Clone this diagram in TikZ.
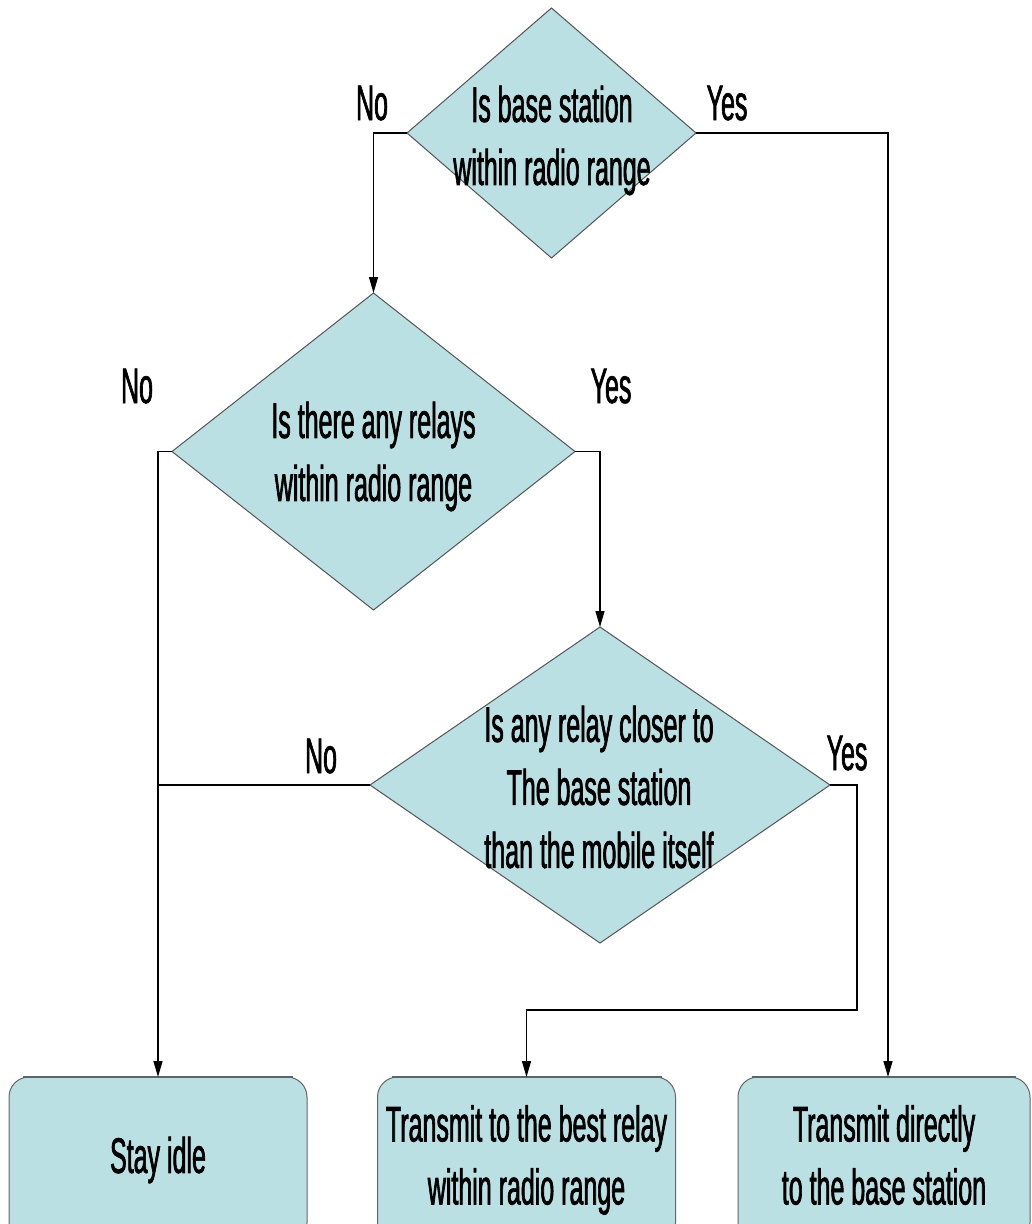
\documentclass[tikz,border=0pt]{standalone}
\usepackage{fontspec}
\setmainfont{Liberation Sans}[FakeStretch=0.5,FakeBold=1.3]
\usetikzlibrary{shapes.geometric,arrows.meta,calc}
\definecolor{boxfill}{RGB}{187,224,227}
\definecolor{edgegray}{RGB}{85,85,85}
\definecolor{topedge}{RGB}{88,104,106}
\begin{document}
\begin{tikzpicture}[x=1pt,y=-1pt,
  decision/.style={diamond, draw=edgegray, line width=1pt, fill=boxfill,
                   inner sep=0pt, outer sep=0pt},
  outcome/.style={rectangle, rounded corners=20pt, draw=edgegray!90, line width=1pt,
                  fill=boxfill, inner sep=0pt, outer sep=0pt,
                  minimum width=298pt, minimum height=166pt, align=center},
  qtext/.style={align=center, inner sep=0pt},
  tag/.style={anchor=base, inner sep=0pt},
  flow/.style={draw=black, line width=1.4pt, -{Triangle[width=9pt,length=16pt]}},
  link/.style={draw=black, line width=1.4pt},
  font=\fontsize{50pt}{63pt}\selectfont]

\useasboundingbox (0,0) rectangle (1032,1224);
\fill[white] (0,0) rectangle (1032,1224);
\clip (0,0) rectangle (1032,1224);

% decisions
\node[decision, minimum width=289pt, minimum height=250pt] (q1) at (551.5,133) {};
\node[qtext] (q1t) at (552,140.5) {Is base station\\within radio range};

\node[decision, minimum width=403pt, minimum height=317pt] (q2) at (373.5,451.5) {};
\node[qtext] (q2t) at (373.5,456.5) {Is there any relays\\within radio range};

\node[decision, minimum width=460pt, minimum height=316pt] (q3) at (600,785) {};
\node[qtext] (q3t) at (599,787) {Is any relay closer to\\The base station\\than the mobile itself};

% outcomes
\node[outcome] (o1) at (158,1160) {Stay idle};
\node[outcome] (o2) at (526.5,1160) {Transmit to the best relay\\within radio range};
\node[outcome, minimum width=292pt] (o3) at (884,1160) {Transmit directly\\to the base station\vphantom{g}};
\foreach \b in {o1,o2,o3}
  \draw[topedge, line width=2.5pt] ([xshift=14pt]\b.north west) -- ([xshift=-14pt]\b.north east);

% connectors
\draw[flow] (q1.west) -| (q2.north);
\draw[flow] (q1.east) -| ([xshift=4pt]o3.north);
\draw[flow] (q2.west) -| (o1.north);
\draw[flow] (q2.east) -| (q3.north);
\draw[link] (q3.west) -- (q3.west -| o1.north);
\coordinate (bend) at (857,1010);
\draw[flow] (q3.east) -| (bend) -| (o2.north);

% branch labels
\node[tag] (l1n) at (372,120) {No};
\node[tag] (l1y) at (727,120) {Yes};
\node[tag] (l2n) at (137,403) {No};
\node[tag] (l2y) at (611,403) {Yes};
\node[tag] (l3n) at (321,773) {No};
\node[tag] (l3y) at (847,770) {Yes};
\end{tikzpicture}
\end{document}
